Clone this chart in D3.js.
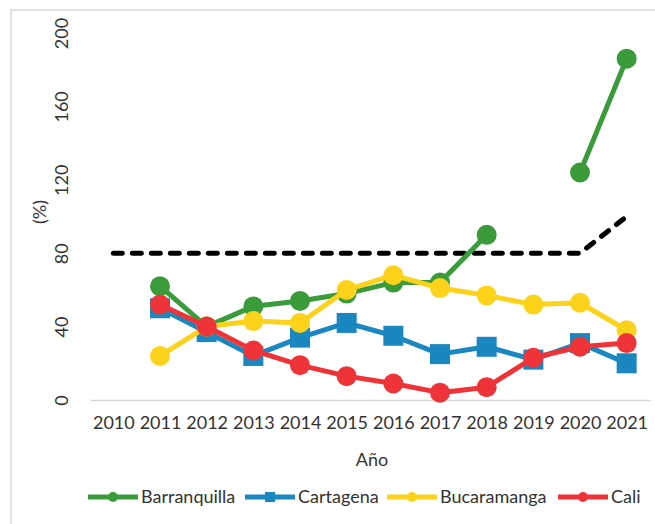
<!DOCTYPE html>
<html>
<head>
<meta charset="utf-8">
<script src="https://cdn.jsdelivr.net/npm/d3@7"></script>
<style>
  body { margin: 0; background: #fff; }
  svg text { font-family: Lato, "Open Sans", sans-serif; fill: #333; }
</style>
</head>
<body>
<div id="chart"></div>
<script>
const years = [2010, 2011, 2012, 2013, 2014, 2015, 2016, 2017, 2018, 2019, 2020, 2021];
const yTicks = [0, 40, 80, 120, 160, 200];

const barranquilla = [null, 62, 40, 51, 54, 58, 64, 64, 90, null, 124, 186];
const cartagena = [null, 50, 37, 24, 34, 42, 35, 25, 29, 22, 31, 20];
const bucaramanga = [null, 24, 40, 43, 42, 60, 68, 61, 57, 52, 53, 38];
const cali = [null, 52, 40, 27, 19, 13, 9, 4, 7, 23, 29, 31];
const meta = [80, 80, 80, 80, 80, 80, 80, 80, 80, 80, 80, 100];

const seriesNames = ["Barranquilla", "Cartagena", "Bucaramanga", "Cali"];
const seriesColors = ["#3a9b3b", "#1b87c0", "#fcd21b", "#ef3439"];
const seriesShapes = ["circle", "square", "circle", "circle"];
const seriesValues = [barranquilla, cartagena, bucaramanga, cali];

let width = 655;
let height = 524;

let svg = d3.select("#chart").append("svg")
  .attr("width", width)
  .attr("height", height);

// chart frame
svg.append("rect")
  .attr("x", 11).attr("y", 10)
  .attr("width", 660).attr("height", 530)
  .attr("fill", "none")
  .attr("stroke", "#d9d9d9")
  .attr("stroke-width", 1.5);

let x = d3.scalePoint().domain(years).range([90, 650]).padding(0.5);
let y = d3.scaleLinear().domain([0, 200]).range([400, 33]);

// x axis
let xAxis = svg.append("g")
  .attr("transform", "translate(0," + y(0) + ")")
  .call(d3.axisBottom(x).tickSize(0).tickSizeOuter(0).tickPadding(16));
xAxis.select(".domain").attr("stroke", "#d9d9d9").attr("stroke-width", 1.5);
xAxis.selectAll("text").style("font-size", "18px").attr("fill", "#333");

// y axis, labels rotated
let yAxis = svg.append("g")
  .attr("transform", "translate(70,0)")
  .call(d3.axisLeft(y).tickValues(yTicks).tickSize(0));
yAxis.select(".domain").remove();
yAxis.selectAll("text")
  .style("font-size", "18px")
  .attr("fill", "#333")
  .attr("x", 0).attr("y", 0).attr("dy", 0)
  .attr("text-anchor", "middle")
  .attr("transform", "translate(-2,0) rotate(-90)");

svg.append("text")
  .attr("transform", "translate(46,212) rotate(-90)")
  .attr("text-anchor", "middle")
  .style("font-size", "18px")
  .text("(%)");

svg.append("text")
  .attr("x", 372).attr("y", 466)
  .attr("text-anchor", "middle")
  .style("font-size", "18px")
  .text("Año");

// dashed reference line
let line = d3.line()
  .defined(d => d.v != null)
  .x(d => x(d.year))
  .y(d => y(d.v));

svg.append("path")
  .datum(years.map((yr, i) => ({ year: yr, v: meta[i] })))
  .attr("d", line)
  .attr("fill", "none")
  .attr("stroke", "#000")
  .attr("stroke-width", 5)
  .attr("stroke-linecap", "round")
  .attr("stroke-dasharray", "9,10");

// series
seriesValues.forEach((vals, s) => {
  let pts = years.map((yr, i) => ({ year: yr, v: vals[i] }));
  let g = svg.append("g");
  g.append("path")
    .datum(pts)
    .attr("d", line)
    .attr("fill", "none")
    .attr("stroke", seriesColors[s])
    .attr("stroke-width", 5)
    .attr("stroke-linejoin", "round");
  let valid = pts.filter(d => d.v != null);
  if (seriesShapes[s] === "square") {
    g.selectAll("rect").data(valid).enter().append("rect")
      .attr("x", d => x(d.year) - 10)
      .attr("y", d => y(d.v) - 10)
      .attr("width", 20).attr("height", 20)
      .attr("fill", seriesColors[s]);
  } else {
    g.selectAll("circle").data(valid).enter().append("circle")
      .attr("cx", d => x(d.year))
      .attr("cy", d => y(d.v))
      .attr("r", 10)
      .attr("fill", seriesColors[s]);
  }
});

// legend
const legendX = [88, 245, 387, 558];
let legend = svg.append("g").attr("transform", "translate(0,497)");
seriesNames.forEach((name, s) => {
  let lg = legend.append("g").attr("transform", "translate(" + legendX[s] + ",0)");
  lg.append("line")
    .attr("x1", 0).attr("x2", 50)
    .attr("stroke", seriesColors[s]).attr("stroke-width", 5);
  if (seriesShapes[s] === "square") {
    lg.append("rect").attr("x", 20).attr("y", -5).attr("width", 10).attr("height", 10)
      .attr("fill", seriesColors[s]);
  } else {
    lg.append("circle").attr("cx", 25).attr("r", 5).attr("fill", seriesColors[s]);
  }
  lg.append("text")
    .attr("x", 53).attr("y", 0).attr("dy", "0.35em")
    .style("font-size", "18px")
    .text(name);
});
</script>
</body>
</html>
